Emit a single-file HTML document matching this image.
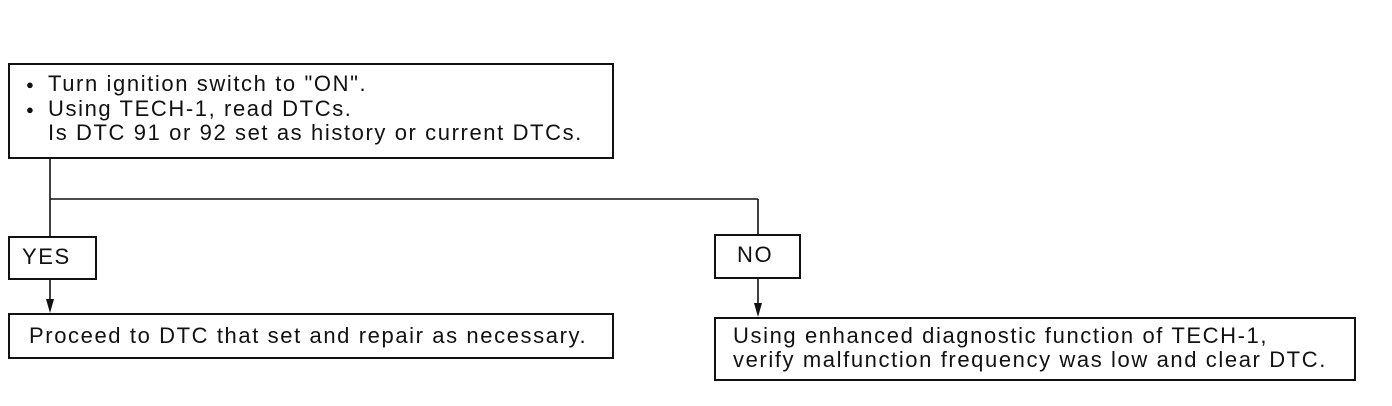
<!DOCTYPE html>
<html><head><style>
body{margin:0;width:1392px;height:406px;background:#fff;position:relative;overflow:hidden;font-family:"Liberation Sans",sans-serif;color:#111}
.b{position:absolute;border:2px solid #111;box-sizing:border-box}
.t{position:absolute;font-size:22px;line-height:24px;white-space:nowrap;letter-spacing:1.6px}
</style></head><body>
<svg width="1392" height="406" style="position:absolute;left:0;top:0">
<g stroke="#111" stroke-width="1.6" fill="none">
<line x1="50" y1="158" x2="50" y2="236"/>
<line x1="50" y1="199" x2="758" y2="199"/>
<line x1="758" y1="199" x2="758" y2="234"/>
<line x1="50" y1="279" x2="50" y2="306"/>
<line x1="758" y1="278" x2="758" y2="310"/>
</g>
<polygon points="46,299 54,299 50,313" fill="#111"/>
<polygon points="754,303 762,303 758,317" fill="#111"/>
</svg>
<div class="b" style="left:8px;top:63px;width:606px;height:96px"></div>
<div class="t" style="left:26px;top:73px;font-size:13px;line-height:24.5px">●<br>●</div>
<div class="t" style="left:48px;top:72px;line-height:24.5px">Turn ignition switch to "ON".<br>Using TECH-1, read DTCs.<br>Is DTC 91 or 92 set as history or current DTCs.</div>
<div class="b" style="left:8px;top:236px;width:89px;height:44px"></div>
<div class="t" style="left:22px;top:245px">YES</div>
<div class="b" style="left:714px;top:234px;width:87px;height:45px"></div>
<div class="t" style="left:737px;top:243px">NO</div>
<div class="b" style="left:8px;top:313px;width:606px;height:46px"></div>
<div class="t" style="left:29px;top:324px">Proceed to DTC that set and repair as necessary.</div>
<div class="b" style="left:714px;top:317px;width:642px;height:64px"></div>
<div class="t" style="left:733px;top:324px">Using enhanced diagnostic function of TECH-1,<br>verify malfunction frequency was low and clear DTC.</div>
</body></html>
